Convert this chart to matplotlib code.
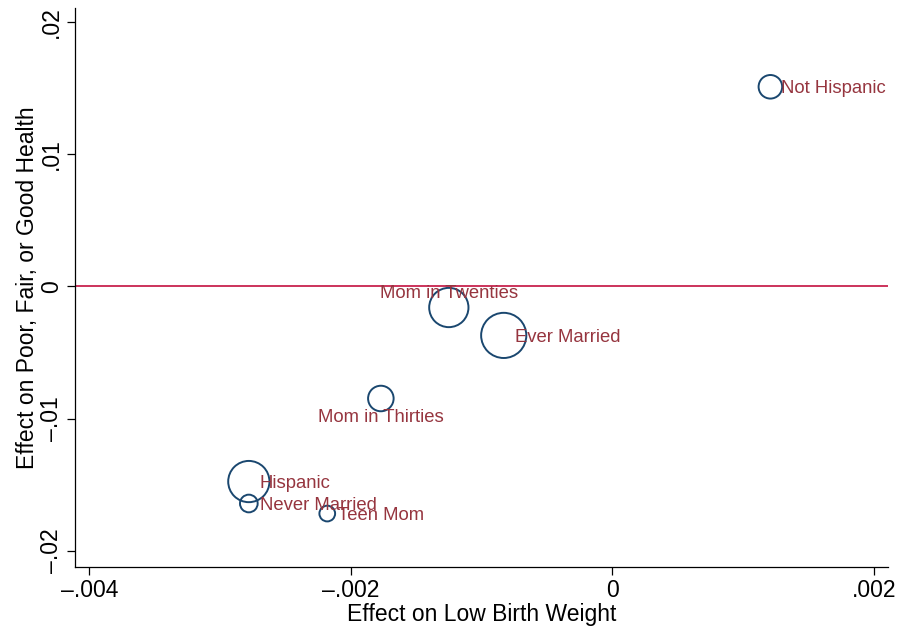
import matplotlib
matplotlib.use('Agg')
import matplotlib.pyplot as plt
from matplotlib.ticker import FixedLocator

plt.rcParams['font.family'] = ['Liberation Sans', 'DejaVu Sans']

# subgroup estimates
groups = ['Not Hispanic', 'Mom in Twenties', 'Ever Married', 'Mom in Thirties',
          'Hispanic', 'Never Married', 'Teen Mom']
lbw_effect = [0.00121, -0.00125, -0.00083, -0.00177, -0.00278, -0.00278, -0.00218]
health_effect = [0.01510, -0.00159, -0.00370, -0.00847, -0.01475, -0.01641, -0.01717]
weights = [144, 400, 529, 169, 441, 81, 64]   # marker weights (relative)

x_ticks = [-0.004, -0.002, 0, 0.002]
x_ticklabels = ['\u2013.004', '\u2013.002', '0', '.002']
y_ticks = [-0.02, -0.01, 0, 0.01, 0.02]
y_ticklabels = ['\u2013.02', '\u2013.01', '0', '.01', '.02']

# label placement (clock positions, Stata style)
label_pos = {'Mom in Twenties': 12, 'Mom in Thirties': 6}

navy = '#1a476f'
maroon = '#96353f'
cranberry = '#c4103f'

fig = plt.figure(figsize=(8.99, 6.33), dpi=100)
ax = fig.add_axes([0.0834, 0.1043, 0.9044, 0.8831])

ax.axhline(0, color=cranberry, lw=1.2, zorder=1)
ax.scatter(lbw_effect, health_effect, s=[w * 2.0 for w in weights],
           facecolors='none', edgecolors=navy, linewidths=1.4, zorder=3)

for g, x, y in zip(groups, lbw_effect, health_effect):
    pos = label_pos.get(g, 3)
    if pos == 12:
        off, ha = (0, 10), 'center'
    elif pos == 6:
        off, ha = (0, -14), 'center'
    else:
        off, ha = (7.8, -1.5), 'left'
    ax.annotate(g, (x, y), xytext=off, textcoords='offset points',
                ha=ha, va='center', color=maroon, fontsize=13.3, zorder=4)

ax.set_xlim(-0.00411, 0.00211)
ax.set_ylim(-0.02121, 0.02106)
ax.xaxis.set_major_locator(FixedLocator(x_ticks))
ax.set_xticklabels(x_ticklabels)
ax.yaxis.set_major_locator(FixedLocator(y_ticks))
ax.set_yticklabels(y_ticklabels, rotation=90, va='center')

for side in ['top', 'right']:
    ax.spines[side].set_visible(False)
for side in ['left', 'bottom']:
    ax.spines[side].set_linewidth(0.9)
ax.tick_params(direction='out', length=5.5, width=0.9, labelsize=16.5, pad=3)

ax.set_xlabel('Effect on Low Birth Weight', fontsize=16.5, labelpad=1)
ax.set_ylabel('Effect on Poor, Fair, or Good Health', fontsize=16.5, labelpad=1)

fig.savefig('out.png', dpi=100)
